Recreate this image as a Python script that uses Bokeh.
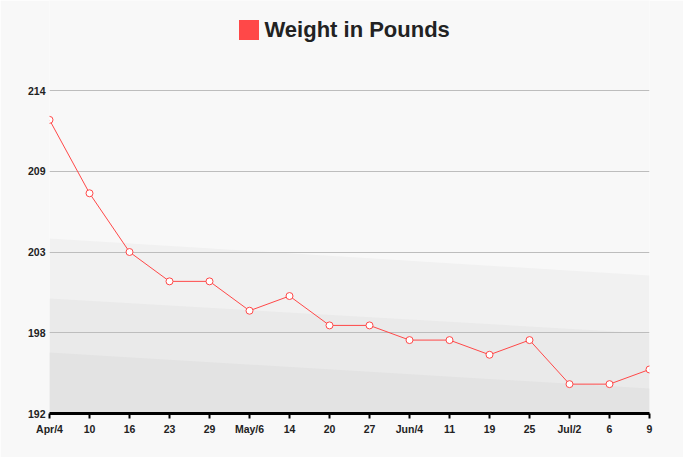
from bokeh.plotting import figure
from bokeh.models import Range1d, FixedTicker, Legend, LegendItem
from bokeh.embed import file_html
from bokeh.resources import INLINE

# ---- data ----
dates = ["Apr/4", "10", "16", "23", "29", "May/6", "14", "20", "27",
         "Jun/4", "11", "19", "25", "Jul/2", "6", "9"]
weight = [212, 207, 203, 201, 201, 199, 200, 198, 198,
          197, 197, 196, 197, 194, 194, 195]
y_ticks = [192, 197.5, 203, 208.5, 214]
y_tick_labels = ["192", "198", "203", "209", "214"]
series_name = "Weight in Pounds"

# decorative background bands (left edge value, right edge value)
band_edges = [(203.92, 201.4), (199.83, 197.45), (196.15, 193.7)]
band_colors = ["#f1f1f1", "#eaeaea", "#e3e3e3"]

RED = "#ff4848"
FONT = "Liberation Sans"

x = list(range(len(dates)))
x_end = len(dates) - 1

# frame spans the title area too (no visible y axis line); top tick 214 sits 90px from top
W, H = 683, 457
LEFT, RIGHT, BOTTOM = 49, 34, 44
plot_h = H - BOTTOM
tick_top_px = 90
per_px = (y_ticks[-1] - y_ticks[0]) / (plot_h - tick_top_px)
y_end = y_ticks[-1] + tick_top_px * per_px

p = figure(width=W, height=H, output_backend="svg", toolbar_location=None,
           x_range=Range1d(0, x_end), y_range=Range1d(y_ticks[0], y_end),
           min_border_left=LEFT, min_border_right=RIGHT, min_border_top=0,
           min_border_bottom=BOTTOM)
p.background_fill_color = "#f8f8f8"
p.border_fill_color = "#f8f8f8"
p.outline_line_color = None

for (yl, yr), c in zip(band_edges, band_colors):
    p.patch([0, x_end, x_end, 0], [yl, yr, y_ticks[0], y_ticks[0]],
            fill_color=c, line_color=None, level="image")

p.line(x, weight, line_color=RED, line_width=1)
p.scatter(x, weight, size=7, fill_color="white", line_color=RED, line_width=1)

# legend acting as the title (zero-area quad only supplies the legend swatch)
swatch = p.quad(left=x[:1], right=x[:1], top=weight[:1], bottom=weight[:1],
                fill_color=RED, line_color=None)
legend = Legend(items=[LegendItem(label=series_name, renderers=[swatch])],
                location=(186.5, 370.5), orientation="horizontal",
                glyph_width=25, glyph_height=25, label_standoff=4,
                label_text_font=FONT, label_text_font_size="22px",
                label_text_font_style="bold", label_text_color="#222222",
                padding=0, margin=0, border_line_color=None,
                background_fill_alpha=0)
p.add_layout(legend)

# axes
p.xaxis.ticker = FixedTicker(ticks=x)
p.xaxis.major_label_overrides = {i: d for i, d in enumerate(dates)}
p.xaxis.axis_line_color = "black"
p.xaxis.axis_line_width = 3
p.xaxis.major_tick_line_color = "black"
p.xaxis.major_tick_line_width = 2
p.xaxis.major_tick_in = 0
p.xaxis.major_tick_out = 5
p.xaxis.minor_tick_line_color = None
p.xaxis.major_label_standoff = 4

p.yaxis.ticker = FixedTicker(ticks=y_ticks)
p.yaxis.major_label_overrides = {t: l for t, l in zip(y_ticks, y_tick_labels)}
p.yaxis.axis_line_color = None
p.yaxis.major_tick_line_color = None
p.yaxis.minor_tick_line_color = None
p.yaxis.major_tick_in = 0
p.yaxis.major_tick_out = 0
p.yaxis.minor_tick_out = 0
p.yaxis.major_label_standoff = 4

for ax in (p.xaxis[0], p.yaxis[0]):
    ax.major_label_text_font = FONT
    ax.major_label_text_font_size = "10.5px"
    ax.major_label_text_font_style = "bold"
    ax.major_label_text_color = "#222222"

p.xgrid.grid_line_color = None
p.ygrid.grid_line_color = "#bdbdbd"
p.ygrid.grid_line_width = 1

open("out.html", "w").write(file_html(p, INLINE))
